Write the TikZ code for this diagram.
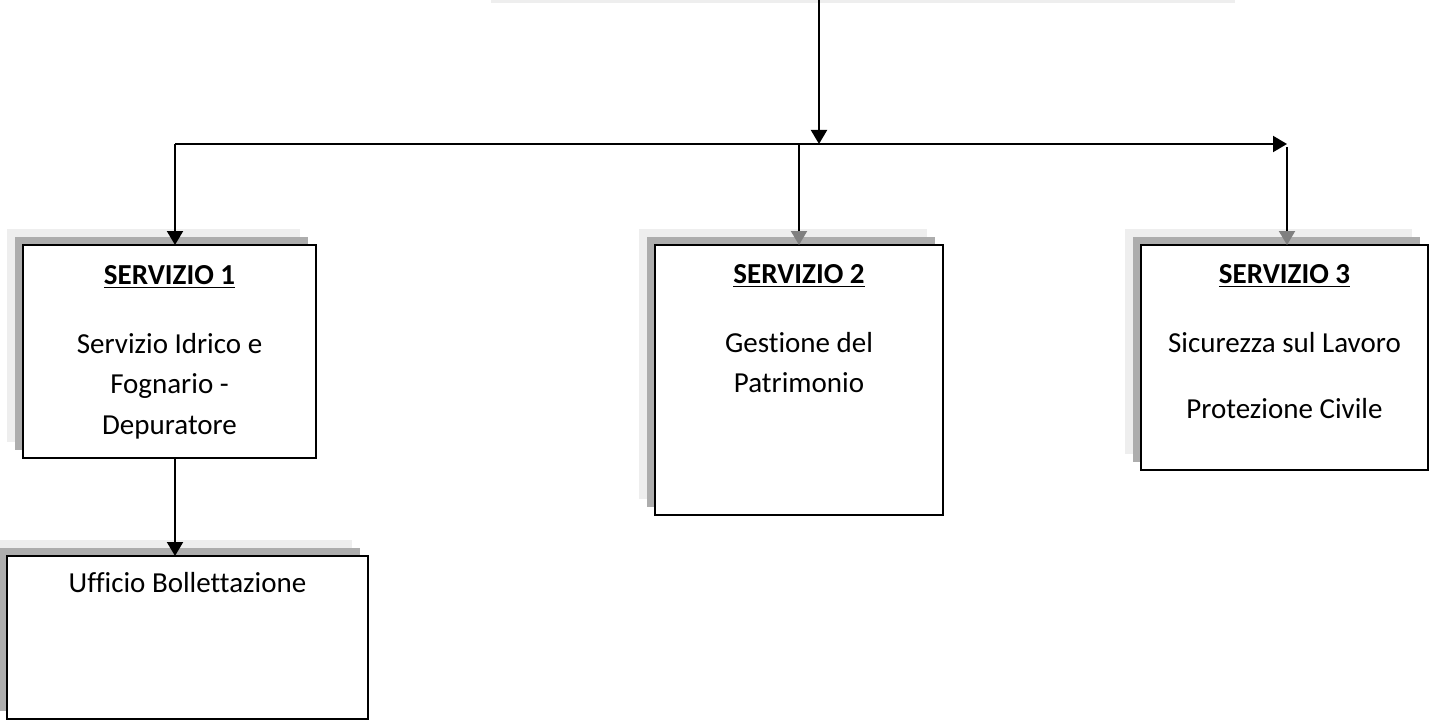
\documentclass[tikz,border=0pt]{standalone}
\usepackage{fontspec}
\setmainfont{Carlito}[Ligatures=NoCommon]
\usetikzlibrary{positioning}
\usetikzlibrary{shadows}
\usetikzlibrary{arrows.meta}
\usetikzlibrary{calc}

\definecolor{ombrachiara}{HTML}{EEEEEE}
\definecolor{ombrascura}{HTML}{ADADAD}

\begin{document}
\begin{tikzpicture}[
x=0.5pt, y=-0.5pt,
freccia/.style={draw, line width=1pt, -{Triangle[length=7pt,width=8pt]}},
frecciagrigia/.style={draw, line width=1pt, -{Triangle[length=7pt,width=8pt,color=black!50]}}
]
\useasboundingbox (0,0) rectangle (1430,722);

\tikzstyle{ufficio} = [draw, line width=1pt, fill=white, shape=rectangle, outer sep=0pt, inner sep=0pt,
  copy shadow={shadow xshift=-8pt, shadow yshift=8pt, fill=ombrachiara, draw=none},
  copy shadow={shadow xshift=-4pt, shadow yshift=4pt, fill=ombrascura, draw=none}]
\tikzstyle{testo} = [align=center, inner sep=0pt, font=\fontsize{14.5}{20.25}\selectfont]

% resto del riquadro in alto
\fill[ombrachiara] (491,-10) rectangle (1235,3);

% servizi
\node[ufficio, minimum width=146.5pt, minimum height=106.5pt] (s1) at (169.5,351.5) {};
\node[ufficio, minimum width=144pt, minimum height=135pt] (s2) at (799,380) {};
\node[ufficio, minimum width=143.5pt, minimum height=112.5pt] (s3) at (1284.5,357.5) {};
\node[ufficio, minimum width=180.5pt, minimum height=81.5pt] (uff) at (187.5,637.5) {};

\node[testo, below=10pt of s1.north] (t1) {\textbf{\underline{SERVIZIO 1}}\\[14.25pt]Servizio Idrico e\\Fognario -\\Depuratore};
\node[testo, below=9.5pt of s2.north] (t2) {\textbf{\underline{SERVIZIO 2}}\\[14.25pt]Gestione del\\Patrimonio};
\node[testo, below=9.5pt of s3.north] (t3) {\textbf{\underline{SERVIZIO 3}}\\[14.25pt]Sicurezza sul Lavoro\\[12.75pt]Protezione Civile};
\node[testo, below=8pt of uff.north] (tu) {Ufficio Bollettazione};

% collegamenti
\coordinate (capo) at (819,0);
\coordinate (bivio) at (819,144);
\coordinate (sx) at (175,144);
\coordinate (dx) at (1287,144);
\coordinate (centro) at (799,144);

\draw[freccia] (capo) -- (bivio);
\draw[freccia] (sx) -- (dx);
\draw[freccia] (sx) -- (sx |- s1.north);
\draw[frecciagrigia] (centro) -- (centro |- s2.north);
\draw[frecciagrigia] ([yshift=-1.5pt]dx) -- (dx |- s3.north);
\draw[freccia] (sx |- s1.south) -- (sx |- uff.north);
\end{tikzpicture}
\end{document}
